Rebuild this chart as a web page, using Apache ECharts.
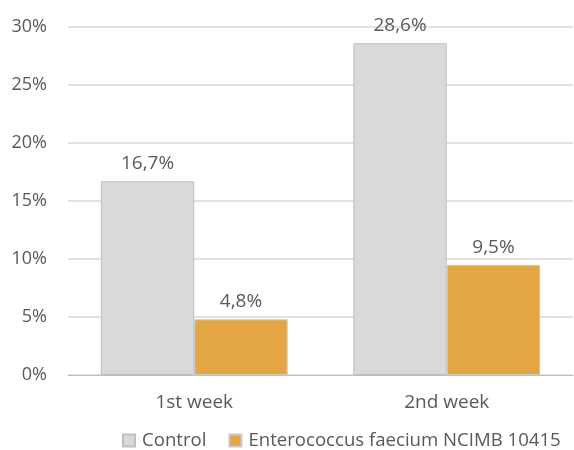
<!DOCTYPE html>
<html><head><meta charset="utf-8">
<script src="https://cdn.jsdelivr.net/npm/echarts@6/dist/echarts.min.js"></script>
<style>html,body{margin:0;padding:0;background:#fff}#c{width:574px;height:450px}</style>
</head><body><div id="c"></div>
<script>
var categories = ['1st week', '2nd week'];
var controlValues = [16.7, 28.6];
var enteroValues = [4.8, 9.5];
var seriesNames = ['Control', 'Enterococcus faecium NCIMB 10415'];

var font = 'Open Sans';
var txt = '#595959';
function fmt(v){ return v.toFixed(1).replace('.', ',') + '%'; }
var chart = echarts.init(document.getElementById('c'));
chart.setOption({
  animation: false,
  textStyle: {fontFamily: font},
  grid: {left: 68, right: 1, top: 27, bottom: 75},
  legend: {
    bottom: 0, left: 122, width: 600, padding: 0, itemWidth: 12, itemHeight: 12, itemGap: 22, icon: 'rect',
    textStyle: {color: txt, fontSize: 18.6, fontFamily: font, padding: [0, 0, 0, 2]},
    data: seriesNames
  },
  xAxis: {
    type: 'category', data: categories,
    axisLine: {lineStyle: {color: '#bfbfbf', width: 1}},
    axisTick: {show: false},
    axisLabel: {color: txt, fontSize: 19, margin: 18, fontFamily: font}
  },
  yAxis: {
    type: 'value', min: 0, max: 30, interval: 5,
    axisLine: {show: false}, axisTick: {show: false},
    axisLabel: {color: txt, fontSize: 18, margin: 21, formatter: '{value}%', fontFamily: font},
    splitLine: {lineStyle: {color: '#d9d9d9', width: 1.5}}
  },
  series: [
    {
      name: seriesNames[0], type: 'bar', data: controlValues,
      barGap: '0%', barCategoryGap: '26%',
      itemStyle: {color: '#d9d9d9', borderColor: '#bfbfbf', borderWidth: 1},
      label: {show: true, position: 'top', distance: 8, color: txt, fontSize: 19, fontFamily: font,
        formatter: function(p){ return fmt(p.value); }}
    },
    {
      name: seriesNames[1], type: 'bar', data: enteroValues,
      itemStyle: {color: '#e3a643', borderColor: '#c9c9c9', borderWidth: 1},
      label: {show: true, position: 'top', distance: 8, color: txt, fontSize: 19, fontFamily: font,
        formatter: function(p){ return fmt(p.value); }}
    }
  ]
});
</script></body></html>
